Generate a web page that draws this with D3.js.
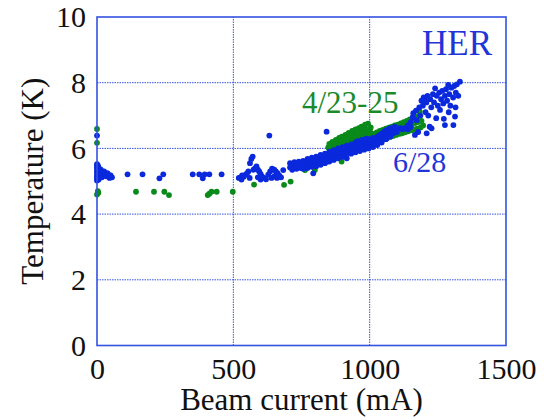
<!DOCTYPE html>
<html><head><meta charset="utf-8">
<script src="https://cdn.jsdelivr.net/npm/d3@7"></script>
<style>html,body{margin:0;padding:0;background:#fff;}svg{display:block;}
svg text{font-family:"Liberation Serif","Tinos","Times New Roman","DejaVu Serif",serif;}</style>
</head><body>
<svg id="chart" width="544" height="420"></svg>
<script>
const xTicks = [0, 500, 1000, 1500];
const yTicks = [0, 2, 4, 6, 8, 10];
const xTitle = "Beam current (mA)";
const yTitle = "Temperature (K)";
const seriesLabels = ["HER", "4/23-25", "6/28"];

// 4/23-25 run (green): [beam current mA, temperature K]
const greenPoints = [
 [0,6.59],[0,6.17],[5,4.65],[0,4.6],[3,4.7],
 [143,4.68],[209,4.68],[247,4.68],[264,4.58],[406,4.58],[412,4.62],[420,4.68],[439,4.68],[498,4.68],
 [576,4.9],[686,4.89],[710,4.99],[763,5.34],[799,5.34],[897,5.6],[854,6.1],
 [848,6.03],[852,6.14],[858,6.07],[863,6.2],[867,6.01],[872,6.12],[876,6.26],[881,6.06],[884,6.17],[888,6.32],
 [892,6.03],[895,6.22],[898,6.36],[902,6.09],[905,6.16],[907,6.29],[911,6.41],[913,6.02],[916,6.13],[919,6.24],
 [921,6.37],[923,6.47],[927,6.06],[929,6.19],[932,6.31],[934,6.44],[936,6.53],[939,6.09],[942,6.23],[944,6.36],
 [946,6.49],[948,6.58],[951,6.04],[953,6.17],[956,6.3],[958,6.43],[960,6.62],[962,6.11],[964,6.26],[966,6.39],
 [968,6.52],[970,6.66],[972,6.07],[975,6.21],[977,6.34],[979,6.48],[981,6.6],[983,6.72],[986,6.13],[988,6.28],
 [990,6.43],[992,6.56],[994,6.75],[996,6.09],[998,6.24],[1000,6.37],[1002,6.5],[1004,6.64],[1008,6.16],
 [1012,6.3],[1015,6.44],[1019,6.2],[1023,6.34],[1026,6.49],[1031,6.22],[1034,6.38],[1037,6.53],[1042,6.25],
 [1045,6.41],[1048,6.56],[1053,6.28],[1056,6.44],[1059,6.6],[1064,6.31],[1067,6.48],[1070,6.63],[1075,6.35],
 [1078,6.51],[1081,6.66],[1086,6.38],[1089,6.55],[1092,6.7],[1097,6.41],[1100,6.58],[1103,6.72],[1108,6.44],
 [1111,6.61],[1114,6.76],[1119,6.46],[1122,6.64],[1125,6.8],[1130,6.49],[1133,6.67],[1136,6.84],[1141,6.52],
 [1144,6.7],[1147,6.88],[1152,6.55],[1155,6.73],[1158,6.92],[1163,6.57],[1166,6.77],[1169,6.96],[1174,6.6],
 [1177,6.8],[1180,6.99],[1184,7.12],[1187,6.64],[1190,6.84],[1196,6.7]
];

// 6/28 run (blue): [beam current mA, temperature K]
const bluePoints = [
 [0,6.39],
 [0,5.52],[0,5.45],[0,5.38],[0,5.3],[0,5.22],[0,5.15],[0,5.08],[0,5.02],[3,5.48],[3,5.35],[3,5.25],[3,5.12],
 [6,5.42],[6,5.2],[6,5.05],[10,5.3],[10,5.15],[14,5.35],[14,5.22],[18,5.28],[18,5.12],[22,5.2],[26,5.3],
 [30,5.22],[34,5.15],[38,5.25],[42,5.2],[46,5.1],[50,5.18],[55,5.12],
 [112,5.21],[167,5.21],[229,5.09],[243,5.21],[351,5.21],[375,5.21],[388,5.09],[395,5.21],[412,5.21],[457,5.21],
 [520,5.1],[527,5.11],[530,5.05],[532,5.18],[538,5.14],[545,5.2],[550,5.24],[555,5.3],[560,5.1],[561,5.55],
 [566,5.68],[571,5.75],[574,5.35],[580,5.4],[585,5.45],[590,5.35],[590,5.12],[595,5.3],[600,5.22],[600,5.05],
 [605,5.15],[612,5.1],[620,5.06],[628,5.2],[632,6.39],[635,5.3],[640,5.1],[642,5.38],[650,5.35],[650,5.15],
 [656,5.3],[662,5.25],[660,5.1],[668,5.18],[675,5.12],[683,5.34],
 [708,5.42],[708,5.55],[716,5.35],[716,5.5],[724,5.45],[724,5.58],[732,5.38],[732,5.52],[740,5.46],[740,5.6],
 [748,5.4],[748,5.55],[756,5.5],[756,5.62],[756,5.38],[764,5.45],[764,5.58],[772,5.52],[772,5.68],[772,5.4],
 [780,5.48],[780,5.62],[788,5.55],[788,5.72],[788,5.44],[793,5.24],[796,5.5],[796,5.66],[804,5.58],[804,5.75],
 [804,5.46],[812,5.52],[812,5.7],[820,5.6],[820,5.8],[820,5.5],[828,5.56],[828,5.74],[836,5.65],[836,5.84],
 [836,5.55],[842,6.51],[844,5.6],[844,5.78],[852,5.7],[852,5.9],[852,5.6],[860,5.66],[860,5.84],[868,5.75],
 [868,5.95],[868,5.65],[876,5.7],[876,5.88],[884,5.8],[884,6.0],[884,5.7],[892,5.76],[892,5.92],[900,5.85],
 [900,6.04],[900,5.74],[908,5.8],[908,5.98],[916,5.9],[916,6.08],[916,5.7],[924,5.86],[924,6.02],[932,5.95],
 [932,6.12],[932,5.84],[940,5.9],[940,6.06],[948,6.0],[948,6.18],[948,5.88],[956,5.95],[956,6.12],[956,6.22],
 [964,6.04],[964,6.2],[964,5.92],[972,6.0],[972,6.16],[972,6.26],[980,6.08],[980,6.24],[980,5.96],[988,6.04],
 [988,6.2],[988,6.3],[996,6.12],[996,6.28],[996,6.0],[1004,6.08],[1004,6.24],[1012,6.16],[1012,6.32],[1012,6.04],
 [1020,6.12],[1020,6.28],[1028,6.2],[1028,6.36],[1028,6.1],[1036,6.25],[1036,6.4],[1044,6.3],[1044,6.45],
 [1044,6.18],[1052,6.35],[1052,6.5],[1060,6.4],[1060,6.55],[1060,6.28],[1068,6.44],[1068,6.58],[1076,6.48],
 [1076,6.62],[1076,6.36],[1084,6.52],[1086,6.46],[1092,6.56],[1092,6.66],[1100,6.6],[1100,6.5],[1110,6.62],
 [1117,6.61],[1120,6.58],[1130,6.62],[1140,6.58],[1140,6.7],[1150,6.65],
 [1150,6.8],[1158,6.95],[1160,7.07],[1166,6.41],[1170,7.15],[1172,6.86],[1178,6.5],[1182,7.25],[1186,7.0],
 [1190,7.45],[1195,7.3],[1198,7.55],[1203,7.47],[1205,7.1],[1208,7.4],[1209,6.46],[1212,7.6],[1215,7.0],
 [1220,6.66],[1222,7.5],[1226,7.25],[1227,6.61],[1232,7.65],[1236,7.4],[1240,7.83],[1244,6.92],[1246,7.6],
 [1250,7.3],[1255,7.7],[1258,7.17],[1262,7.5],[1266,7.75],[1270,7.37],[1272,6.9],[1276,6.71],[1276,7.6],
 [1280,7.8],[1284,7.45],[1288,7.93],[1290,7.1],[1292,7.65],[1296,7.3],[1300,7.85],[1307,6.71],[1306,7.55],
 [1310,7.9],[1313,6.97],[1315,7.25],[1316,7.7],[1320,7.95],[1325,7.6],[1331,8.03]
];

const svg = d3.select("#chart");
const margin = {left: 97, right: 38, top: 17, bottom: 74.5};
const W = 544, H = 420;
const x = d3.scaleLinear().domain([0, 1500]).range([margin.left, W - margin.right]);
const y = d3.scaleLinear().domain([0, 10]).range([H - margin.bottom, margin.top]);

const frameColor = "#3352e0";

// grid
const grid = svg.append("g");
grid.selectAll("line.gx").data(xTicks.slice(1, -1)).join("line")
  .attr("x1", d => x(d)).attr("x2", d => x(d))
  .attr("y1", y(0)).attr("y2", y(10))
  .attr("stroke", frameColor).attr("stroke-width", 1).attr("stroke-dasharray", "1.5,1");
grid.selectAll("line.gy").data(yTicks.slice(1, -1)).join("line")
  .attr("x1", x(0)).attr("x2", x(1500))
  .attr("y1", d => y(d)).attr("y2", d => y(d))
  .attr("stroke", frameColor).attr("stroke-width", 1).attr("stroke-dasharray", "1.5,1");

// axes (labels only, frame drawn separately)
const xAxis = svg.append("g").attr("transform", `translate(0,${y(0)})`)
  .call(d3.axisBottom(x).tickValues(xTicks).tickSize(0).tickPadding(12).tickFormat(d3.format("d")));
xAxis.attr("font-family", null);
xAxis.select(".domain").remove();
xAxis.selectAll("text").attr("font-size", 30).attr("fill", "#111").attr("dy", "0.71em");

const yAxis = svg.append("g").attr("transform", `translate(${x(0)},0)`)
  .call(d3.axisLeft(y).tickValues(yTicks).tickSize(0).tickPadding(11).tickFormat(d3.format("d")));
yAxis.attr("font-family", null);
yAxis.select(".domain").remove();
yAxis.selectAll("text").attr("font-size", 30).attr("fill", "#111");

// points
svg.append("g").selectAll("circle").data(greenPoints).join("circle")
  .attr("cx", d => x(d[0])).attr("cy", d => y(d[1])).attr("r", 2.9).attr("fill", "#0a8a1a");
svg.append("g").selectAll("circle").data(bluePoints).join("circle")
  .attr("cx", d => x(d[0])).attr("cy", d => y(d[1])).attr("r", 2.9).attr("fill", "#0a28dc");

// frame
svg.append("rect").attr("x", x(0)).attr("y", y(10)).attr("width", x(1500) - x(0)).attr("height", y(0) - y(10))
  .attr("fill", "none").attr("stroke", frameColor).attr("stroke-width", 1.6);

// titles
svg.append("text").attr("x", (x(0) + x(1500)) / 2).attr("y", 410).attr("text-anchor", "middle")
  .attr("font-size", 31).attr("fill", "#111").text(xTitle);
svg.append("text").attr("transform", `translate(43,${(y(0) + y(10)) / 2}) rotate(-90)`).attr("text-anchor", "middle")
  .attr("font-size", 31).attr("fill", "#111").text(yTitle);

// labels
svg.append("text").attr("x", 422).attr("y", 55).attr("font-size", 35)
  .attr("fill", "#1f35d8").text(seriesLabels[0]);
svg.append("text").attr("x", 302).attr("y", 113).attr("font-size", 31)
  .attr("fill", "#1a8a2a").text(seriesLabels[1]);
svg.append("text").attr("x", 393).attr("y", 172).attr("font-size", 30)
  .attr("fill", "#1f35d8").text(seriesLabels[2]);
</script>
</body></html>
